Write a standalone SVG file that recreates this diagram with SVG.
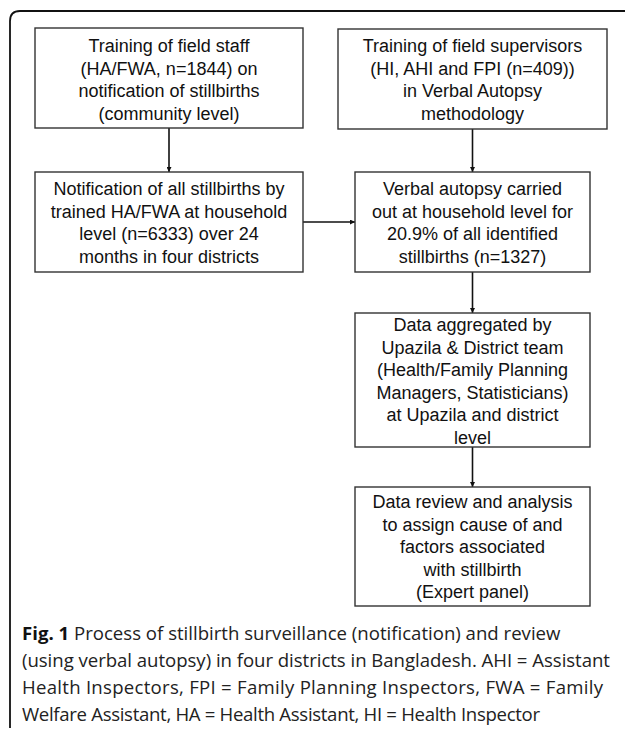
<svg xmlns="http://www.w3.org/2000/svg" width="625" height="729" viewBox="0 0 625 729">
<style>
.box{fill:#fff;stroke:#333;stroke-width:1.4}
.t{font-family:"Liberation Sans",Arial,sans-serif;font-size:18px;fill:#111;text-anchor:middle}
.con{stroke:#111;stroke-width:1.6;fill:none}
.cap{font-family:"Open Sans","Noto Sans",sans-serif;font-size:18.6px;fill:#222}
.frame{fill:none;stroke:#111;stroke-width:1.8}
</style>
<defs>
<marker id="arr" viewBox="0 0 10 10" refX="10" refY="5" markerWidth="5" markerHeight="5" orient="auto" markerUnits="userSpaceOnUse">
<path d="M0,0 L10,5 L0,10 z" fill="#111"/>
</marker>
</defs>
<rect width="625" height="729" fill="#fff"/>
<path class="frame" d="M10,728 V21 Q10,11 20,11 H625"/>
<g id="connectors">
<line class="con" x1="169" y1="128" x2="169" y2="172" marker-end="url(#arr)"/>
<line class="con" x1="472.5" y1="129" x2="472.5" y2="172" marker-end="url(#arr)"/>
<line class="con" x1="303" y1="222" x2="355" y2="222" marker-end="url(#arr)"/>
<line class="con" x1="472.5" y1="272" x2="472.5" y2="313" marker-end="url(#arr)"/>
<line class="con" x1="472.5" y1="447" x2="472.5" y2="487" marker-end="url(#arr)"/>
</g>
<g id="n1">
<rect class="box" x="35" y="28" width="268" height="100"/>
<text class="t" x="169" y="52">Training of field staff</text>
<text class="t" x="169" y="74.5">(HA/FWA, n=1844) on</text>
<text class="t" x="169" y="97">notification of stillbirths</text>
<text class="t" x="169" y="119.5">(community level)</text>
</g>
<g id="n2">
<rect class="box" x="338" y="29" width="269" height="100"/>
<text class="t" x="472.5" y="52">Training of field supervisors</text>
<text class="t" x="472.5" y="74.5">(HI, AHI and FPI (n=409))</text>
<text class="t" x="472.5" y="97">in Verbal Autopsy</text>
<text class="t" x="472.5" y="119.5">methodology</text>
</g>
<g id="n3">
<rect class="box" x="35" y="172" width="268" height="100"/>
<text class="t" x="169" y="195">Notification of all stillbirths by</text>
<text class="t" x="169" y="217.5">trained HA/FWA at household</text>
<text class="t" x="169" y="240">level (n=6333) over 24</text>
<text class="t" x="169" y="262.5">months in four districts</text>
</g>
<g id="n4">
<rect class="box" x="355" y="172" width="235" height="100"/>
<text class="t" x="472.5" y="195">Verbal autopsy carried</text>
<text class="t" x="472.5" y="217.5">out at household level for</text>
<text class="t" x="472.5" y="240">20.9% of all identified</text>
<text class="t" x="472.5" y="262.5">stillbirths (n=1327)</text>
</g>
<g id="n5">
<rect class="box" x="355" y="313" width="235" height="134"/>
<text class="t" x="472.5" y="331">Data aggregated by</text>
<text class="t" x="472.5" y="353.5">Upazila &amp; District team</text>
<text class="t" x="472.5" y="376">(Health/Family Planning</text>
<text class="t" x="472.5" y="398.5">Managers, Statisticians)</text>
<text class="t" x="472.5" y="421">at Upazila and district</text>
<text class="t" x="472.5" y="443.5">level</text>
</g>
<g id="n6">
<rect class="box" x="355" y="487" width="235" height="119"/>
<text class="t" x="472.5" y="508">Data review and analysis</text>
<text class="t" x="472.5" y="530.5">to assign cause of and</text>
<text class="t" x="472.5" y="553">factors associated</text>
<text class="t" x="472.5" y="575.5">with stillbirth</text>
<text class="t" x="472.5" y="598">(Expert panel)</text>
</g>
<g id="caption">
<text class="cap" x="22" y="640"><tspan font-weight="bold" fill="#111">Fig. 1</tspan> Process of stillbirth surveillance (notification) and review</text>
<text class="cap" x="22" y="667" textLength="588" lengthAdjust="spacing">(using verbal autopsy) in four districts in Bangladesh. AHI = Assistant</text>
<text class="cap" x="22" y="694" textLength="581" lengthAdjust="spacing">Health Inspectors, FPI = Family Planning Inspectors, FWA = Family</text>
<text class="cap" x="22" y="721" textLength="518" lengthAdjust="spacing">Welfare Assistant, HA = Health Assistant, HI = Health Inspector</text>
</g>
</svg>
